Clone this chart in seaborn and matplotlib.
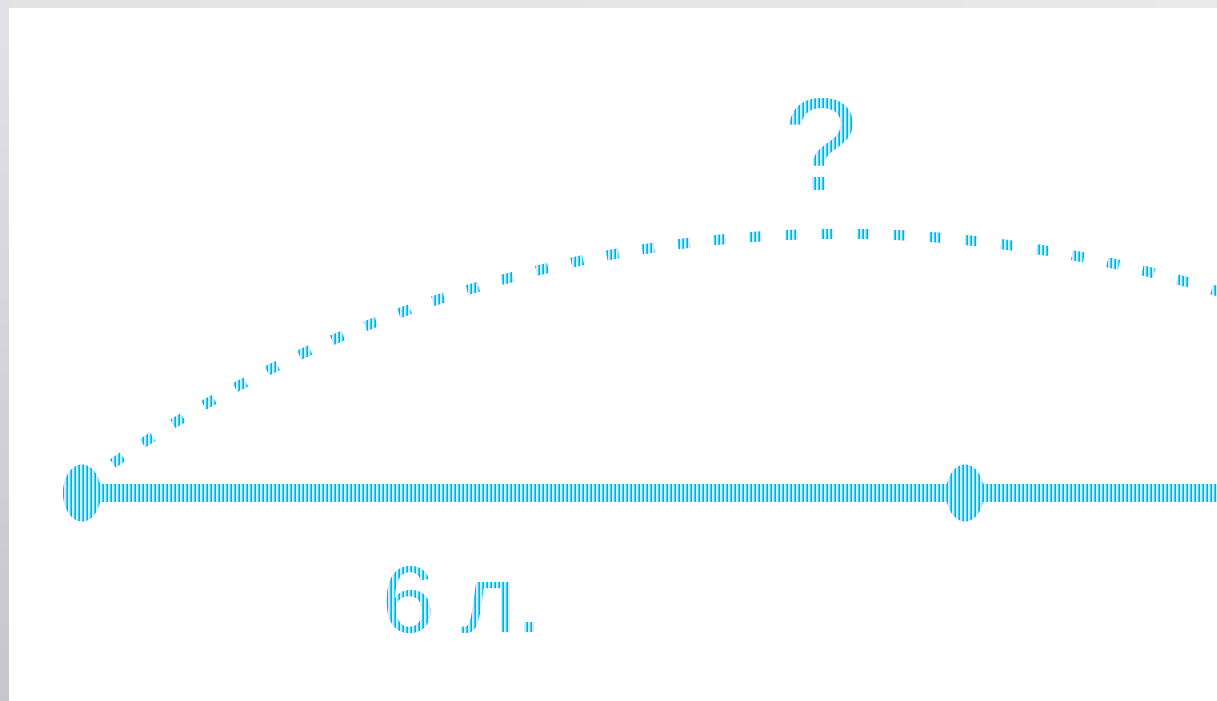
import numpy as np
import matplotlib
matplotlib.use("Agg")
import matplotlib.pyplot as plt
from matplotlib import font_manager
from matplotlib.patches import Arc
from matplotlib.path import Path
import seaborn as sns

# number line segment (picture units, y grows downward)
seg_x = [82, 1240]
seg_y = [493, 493]

# the two marked points on the line
point_x = [82, 965]
point_y = [493, 493]

# labels: length of the known part and the unknown
labels = ["6 л.", "?"]
label_x = [462, 820]
label_y = [632, 190]

# dotted arc: centre, radius, start / end angle
arc_center = (840.4, 1501.4)
arc_radius = 1267.6
arc_angles = (233.25, 292.0)

# colour fringes seen in the picture, one per pixel column
stripe_colors = np.array([[228, 228, 255],
                          [255, 245, 40],
                          [30, 220, 255],
                          [255, 40, 255]]) / 255.0

W, H = 1217, 701
sns.set_theme(style="white")
fig = plt.figure(figsize=(W / 100, H / 100), dpi=100)
ax = fig.add_axes([0, 0, 1, 1])
ax.set_xlim(0, W)
ax.set_ylim(H, 0)
ax.axis("off")

ink = "black"

# dotted arc over the line
arc = Arc(arc_center, 2 * arc_radius, 2 * arc_radius,
          theta1=arc_angles[0], theta2=arc_angles[1],
          lw=7.2, color=ink, linestyle=(3.4, (1.2, 2.4)), capstyle="butt")
ax.add_patch(arc)

# thick line and its two points
sns.lineplot(x=seg_x, y=seg_y, ax=ax, color=ink, lw=13, solid_capstyle="butt")
t = np.linspace(0, 2 * np.pi, 80)
ellipse = Path(np.column_stack([np.cos(t), 1.5 * np.sin(t)]))
sns.scatterplot(x=point_x, y=point_y, ax=ax, marker=ellipse, s=1681,
                color=ink, edgecolor="none", linewidth=0, zorder=3)

# narrow face if there is one, else a smaller regular face
names = {f.name for f in font_manager.fontManager.ttflist}
if "Liberation Sans Narrow" in names:
    fonts = ["Liberation Sans Narrow", "DejaVu Sans"]
    sizes = [80, 104]
else:
    fonts = ["Liberation Sans", "DejaVu Sans"]
    sizes = [68, 95]

ax.text(label_x[0], label_y[0], labels[0], ha="center", va="baseline",
        fontsize=sizes[0], family=fonts, color=ink)
ax.text(label_x[1], label_y[1], labels[1], ha="center", va="baseline",
        fontsize=sizes[1], family=fonts, color=ink)

# turn the black drawing into the coloured column stripes
fig.canvas.draw()
buf = np.asarray(fig.canvas.buffer_rgba()).astype(float) / 255.0
cov = 1.0 - buf[..., :3].mean(axis=2)
cols = stripe_colors[np.arange(W) % 4]
overlay = np.zeros((H, W, 4))
overlay[..., :3] = cols[None, :, :]
overlay[..., 3] = np.clip(cov * 1.05, 0, 1)

# soften what is underneath so it does not show through the edges
for line in ax.lines:
    line.set_color("#e6c8f0")
for coll in ax.collections:
    coll.set_facecolor("#e6c8f0")
arc.set_edgecolor("#e6c8f0")
for txt in ax.texts:
    txt.set_color("#e6c8f0")

fig.figimage(overlay, 0, 0, origin="upper", zorder=10)

# grey frame on the top and left edge
top = np.linspace(0.89, 0.915, W)[None, :, None] * np.ones((8, 1, 3))
left = np.linspace(0.89, 0.78, H)[:, None, None] * np.ones((1, 9, 3))
left[..., 2] += 0.015
fig.figimage(np.clip(top, 0, 1), 0, H - 8, zorder=11)
fig.figimage(np.clip(left, 0, 1), 0, 0, origin="upper", zorder=11)

fig.savefig("out.png", dpi=100)
